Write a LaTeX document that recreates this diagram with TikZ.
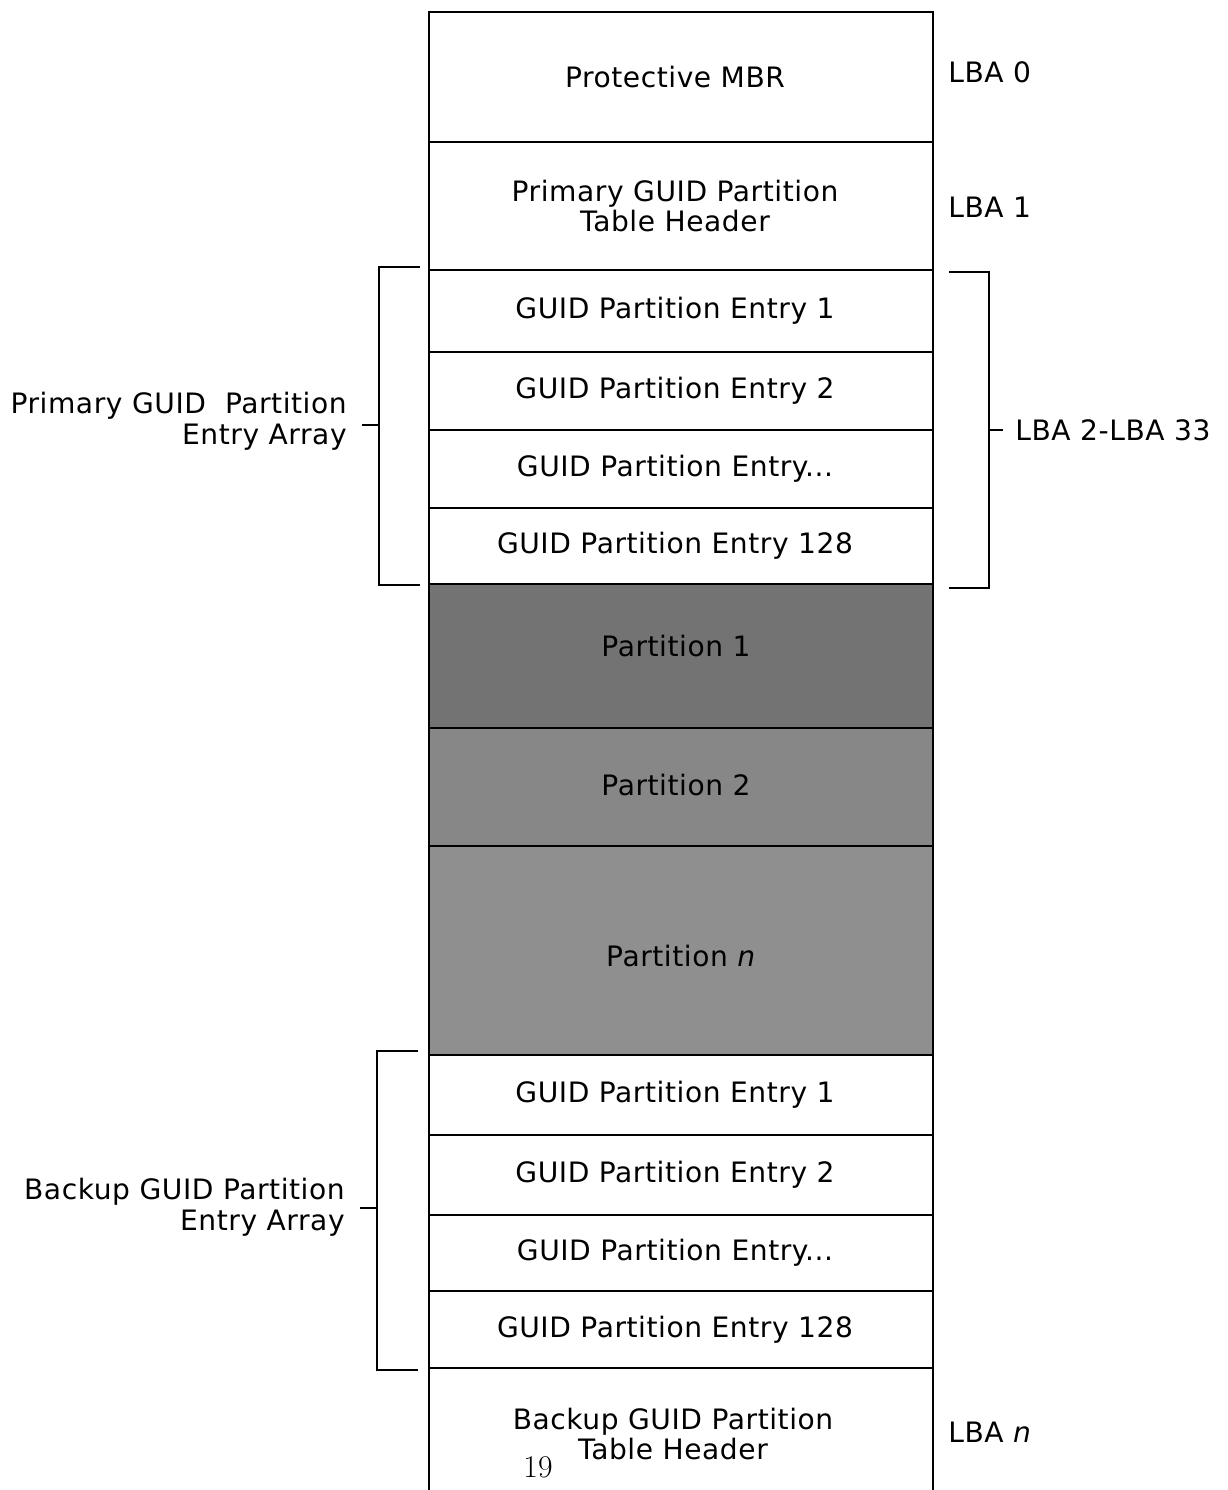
\documentclass[tikz,border=0pt]{standalone}
\usepackage{fontspec}
\newfontfamily\dv[LetterSpace=2]{DejaVu Sans}
\begin{document}
\begin{tikzpicture}[x=0.02cm,y=-0.02cm,
  txt/.style={font=\dv\fontsize{16}{17.5}\selectfont, align=center, inner sep=0pt},
  txtc/.style={txt, xshift=-0.12cm},
  cell/.style={draw=black, line width=1pt, minimum width=10.08cm, inner sep=0pt},
  part/.style={cell, fill=black!48},
  side/.style={txt, align=right, anchor=east, inner xsep=0.3cm},
  lba/.style={txt, anchor=west},
  brk/.style={line width=0.8pt}]
\useasboundingbox (0,0) rectangle (1227,1490);
% primary
\node[cell, minimum height=2.6cm, label={[txtc]center:Protective MBR}]  (mbr) at (681,77) {};
\node[cell, minimum height=2.56cm, label={[txtc]center:Primary GUID Partition\\Table Header}] (hdr) at (681,206) {};
\node[cell, minimum height=1.64cm, label={[txtc]center:GUID Partition Entry 1}] (e1) at (681,311) {};
\node[cell, minimum height=1.56cm, label={[txtc]center:GUID Partition Entry 2}] (e2) at (681,391) {};
\node[cell, minimum height=1.56cm, label={[txtc]center:GUID Partition Entry...}] (e3) at (681,469) {};
\node[cell, minimum height=1.52cm, label={[txtc]center:GUID Partition Entry 128}] (e4) at (681,546) {};
% partitions
\node[part, fill=black!55, minimum height=2.88cm] (p1) at (681,656) {};
\node[txt] (p1t) at (676,646) {Partition 1};
\node[part, fill=black!47, minimum height=2.36cm] (p2) at (681,787) {};
\node[txt] (p2t) at (676,785) {Partition 2};
\node[part, fill=black!44, minimum height=4.18cm] (pn) at (681,950.5) {};
\node[txt] (pnt) at (681,956) {Partition \textit{n}};
% backup
\node[cell, minimum height=1.6cm, label={[txtc]center:GUID Partition Entry 1}]  (b1) at (681,1095) {};
\node[cell, minimum height=1.6cm, label={[txtc]center:GUID Partition Entry 2}]  (b2) at (681,1175) {};
\node[cell, minimum height=1.52cm, label={[txtc]center:GUID Partition Entry...}] (b3) at (681,1253) {};
\node[cell, minimum height=1.54cm, label={[txtc]center:GUID Partition Entry 128}] (b4) at (681,1329.5) {};
\node[txt, minimum width=10.08cm, minimum height=2.44cm] (bh) at (681,1429) {};
\node[txt] (bht) at (673,1434) {Backup GUID Partition\\Table Header};
\draw[line width=1pt] (bh.south west) -- (bh.north west) -- (bh.north east) -- (bh.south east);
% LBA labels
\node[lba] (l0) at (948,72) {LBA 0};
\node[lba] (l1) at (948,207) {LBA 1};
\node[lba] (ln) at (948,1432) {LBA \textit{n}};
\node[lba, inner xsep=0.24cm] (l233) at (1003,430) {LBA 2-LBA 33};
% right bracket
\coordinate (rt) at (949,272);
\coordinate (rb) at (949,588);
\coordinate (rm) at (989,430);
\draw[brk] (rt) -- (989,272) -- (989,588) -- (rb);
\draw[brk] (rm) -- (l233.west);
% left primary bracket
\node[side] (pl) at (362,421) {Primary GUID\ \ Partition\\Entry Array};
\coordinate (lt) at (420,267);
\coordinate (lb) at (420,585);
\coordinate (lm) at (379,425);
\draw[brk] (lt) -- (379,267) -- (379,585) -- (lb);
\draw[brk] (lm) -- (lm -| pl.east);
% left backup bracket
\node[side] (bl) at (360,1207) {Backup GUID Partition\\Entry Array};
\coordinate (blt) at (418,1051);
\coordinate (blb) at (418,1370);
\coordinate (blm) at (377,1208);
\draw[brk] (blt) -- (377,1051) -- (377,1370) -- (blb);
\draw[brk] (blm) -- (blm -| bl.east);
% page number
\node[font=\fontsize{18}{20}\selectfont, inner sep=0pt] (pg) at (538,1467) {19};
\end{tikzpicture}
\end{document}
